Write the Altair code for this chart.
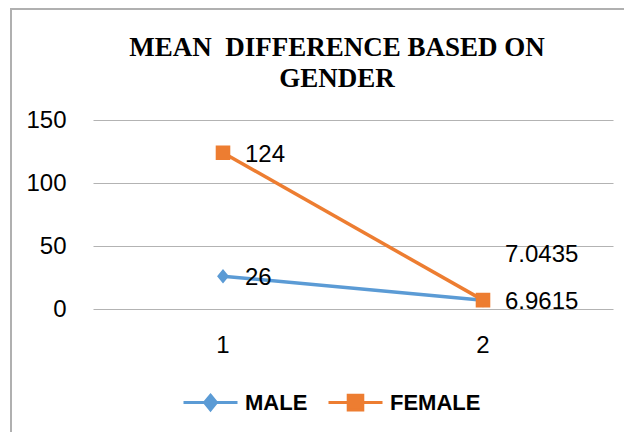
import altair as alt
import pandas as pd

categories = ["1", "2"]
male_values = [26, 6.9615]
female_values = [124, 7.0435]
series_names = ["MALE", "FEMALE"]
series_colors = ["#5B9BD5", "#ED7D31"]
y_ticks = [0, 50, 100, 150]
title_lines = ["MEAN\u00a0 DIFFERENCE BASED ON", "GENDER"]

rows = []
for s, vals in zip(series_names, [male_values, female_values]):
    for c, v in zip(categories, vals):
        rows.append({"cat": c, "series": s, "value": v,
                     "label": ("%g" % v)})
df = pd.DataFrame(rows)

FONT = "Liberation Sans"

x_enc = alt.X("cat:N", sort=categories,
              scale=alt.Scale(paddingInner=0, paddingOuter=0, type="band"),
              axis=alt.Axis(title=None, labelAngle=0, domain=False, ticks=False,
                            grid=False, labelPadding=24, labelFontSize=24,
                            labelFont=FONT, labelColor="#000000"))
y_enc = alt.Y("value:Q", scale=alt.Scale(domain=[0, 150], nice=False),
              axis=alt.Axis(title=None, values=y_ticks, domain=False, ticks=False,
                            grid=True, gridColor="#b3b3b3", gridWidth=1,
                            labelPadding=27, labelFontSize=24, labelFont=FONT,
                            labelColor="#000000"))
color_scale = alt.Scale(domain=series_names, range=series_colors)
shape_paths = [
    "M-1,0L1,0M0,-0.27L0.22,0L0,0.27L-0.22,0Z",
    "M-1,0L1,0M-0.27,-0.27L0.27,-0.27L0.27,0.27L-0.27,0.27Z",
]
shape_scale = alt.Scale(domain=series_names, range=shape_paths)

base = alt.Chart(df)

legend = alt.Legend(
    title=None, orient="none", legendX=89, legendY=254, direction="horizontal",
    labelFont=FONT, labelFontSize=22, labelFontWeight="bold", labelColor="#000000",
    symbolSize=2916, labelOffset=6, columnPadding=14, padding=0,
    symbolStrokeWidth=3, symbolOpacity=1,
)

# invisible layer that only provides the legend (line + marker symbols)
legend_layer = base.mark_point(
    filled=True, size=2916, strokeWidth=3, opacity=0).encode(
    x=x_enc, y=y_enc,
    fill=alt.Fill("series:N", scale=color_scale, legend=legend, sort=series_names),
    stroke=alt.Stroke("series:N", scale=color_scale, legend=legend, sort=series_names),
    shape=alt.Shape("series:N", scale=shape_scale, legend=legend, sort=series_names),
)

lines = base.mark_line(strokeWidth=3.5).encode(
    x=x_enc, y=y_enc,
    stroke=alt.Stroke("series:N", scale=color_scale, sort=series_names),
    detail="series:N",
    order=alt.Order("cat:N"),
)

points = base.mark_point(filled=True, size=2916, strokeWidth=0, opacity=1).encode(
    x=x_enc, y=y_enc,
    fill=alt.Fill("series:N", scale=color_scale, sort=series_names),
    shape=alt.Shape("series:N", scale=shape_scale, sort=series_names),
)

labels_main = base.transform_filter(
    "!(datum.series == 'FEMALE' && datum.cat == '2')"
).mark_text(align="left", baseline="middle", dx=22, dy=2, fontSize=24,
            font=FONT, color="#000000").encode(x=x_enc, y=y_enc, text="label:N")

labels_up = base.transform_filter(
    "datum.series == 'FEMALE' && datum.cat == '2'"
).mark_text(align="left", baseline="middle", dx=22, dy=-45, fontSize=24,
            font=FONT, color="#000000").encode(x=x_enc, y=y_enc, text="label:N")

frame_df = pd.DataFrame({"k": [0]})
left_border = alt.Chart(frame_df).mark_rule(color="#b0b0b0", strokeWidth=2).encode(
    x=alt.value(-82), y=alt.value(-111), y2=alt.value(330))
top_border = alt.Chart(frame_df).mark_rule(color="#b0b0b0", strokeWidth=2).encode(
    x=alt.value(-83), x2=alt.value(540), y=alt.value(-111))

title_text = alt.Chart(frame_df).mark_text(
    text=title_lines, font="Liberation Serif", fontSize=27, fontWeight="bold",
    color="#000000", align="center", baseline="alphabetic", lineHeight=31,
).encode(x=alt.value(244), y=alt.value(-64))

chart = alt.layer(legend_layer, left_border, top_border, title_text, lines, points,
                  labels_main, labels_up).properties(
    width=520, height=189,
    padding={"left": 85, "top": 112, "right": 11, "bottom": 123},
    autosize=alt.AutoSizeParams(type="none"),
    background="white",
).configure_view(strokeWidth=0, stroke=None)

chart.save("out.html", embed_options={"renderer": "svg", "actions": False})
